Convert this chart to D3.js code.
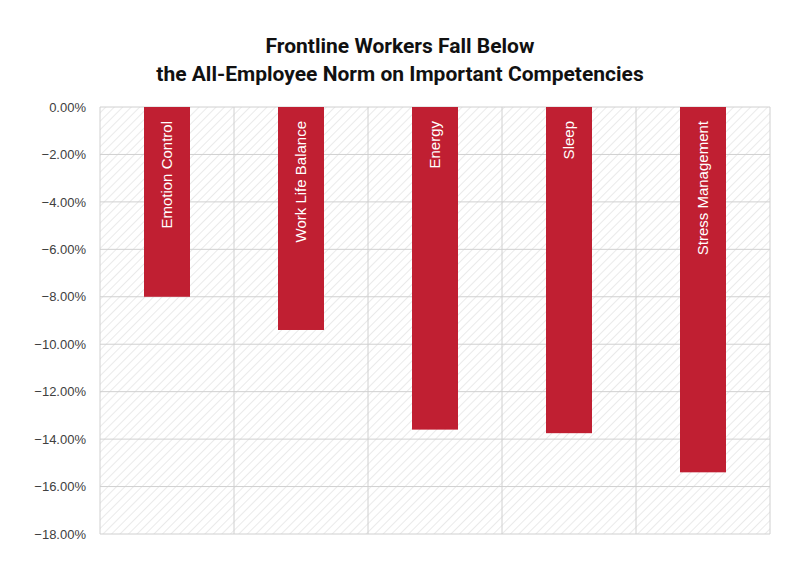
<!DOCTYPE html><html><head><meta charset="utf-8"><script src="https://cdn.jsdelivr.net/npm/d3@7"></script>
<style>body{margin:0;background:#fff}</style></head><body><svg width="800" height="566"></svg><script>
const categories=["Emotion Control","Work Life Balance","Energy","Sleep","Stress Management"];
const values=[-0.080,-0.094,-0.136,-0.1375,-0.154];
const yTicks=[0,-0.02,-0.04,-0.06,-0.08,-0.10,-0.12,-0.14,-0.16,-0.18];
const svg=d3.select("svg");
const L=100,R=770,T=107,B=534;
const x=d3.scaleBand().domain(categories).range([L,R]);
const y=d3.scaleLinear().domain([0,-0.18]).range([T,B]);
const defs=svg.append("defs");
const p=defs.append("pattern").attr("id","h").attr("patternUnits","userSpaceOnUse").attr("width",6).attr("height",6).attr("patternTransform","rotate(45)");
p.append("line").attr("x1",0).attr("y1",0).attr("x2",0).attr("y2",6).attr("stroke","#d6d6d6").attr("stroke-width",1);
svg.append("rect").attr("x",L).attr("y",T).attr("width",R-L).attr("height",B-T).attr("fill","url(#h)");
svg.append("g").selectAll("line").data(yTicks).join("line").attr("x1",L).attr("x2",R).attr("y1",d=>y(d)).attr("y2",d=>y(d)).attr("stroke","#d0d0d0");
const edges=categories.map(c=>x(c)).concat([R]);
svg.append("g").selectAll("line").data(edges).join("line").attr("x1",d=>d).attr("x2",d=>d).attr("y1",T).attr("y2",B).attr("stroke","#d0d0d0");
const fmt=d=>d3.format(".2f")(d*100)+"%";
const ax=svg.append("g").attr("transform",`translate(${L},0)`).call(d3.axisLeft(y).tickValues(yTicks).tickFormat(fmt).tickSize(0).tickPadding(14));
ax.select(".domain").remove();
ax.selectAll("text").attr("font-family","Arial, Liberation Sans, sans-serif").attr("font-size",13).attr("fill","#404040");
const bw=46;
svg.append("g").selectAll("rect").data(categories).join("rect").attr("x",c=>x(c)+x.bandwidth()/2-bw/2).attr("width",bw).attr("y",y(0)).attr("height",(c,i)=>y(values[i])-y(0)).attr("fill","#c01f32");
svg.append("g").selectAll("text").data(categories).join("text").attr("transform",c=>`translate(${x(c)+x.bandwidth()/2+5},${y(0)+14}) rotate(-90)`).attr("text-anchor","end").attr("fill","#fff").attr("font-family","Arial, Liberation Sans, sans-serif").attr("font-size",15).text(c=>c);
const t=svg.append("text").attr("text-anchor","middle").attr("font-family","Roboto, Liberation Sans, sans-serif").attr("font-weight","bold").attr("font-size",21).attr("fill","#111");
t.append("tspan").attr("x",400).attr("y",53).text("Frontline Workers Fall Below");
t.append("tspan").attr("x",400).attr("y",81).text("the All-Employee Norm on Important Competencies");
</script></body></html>
